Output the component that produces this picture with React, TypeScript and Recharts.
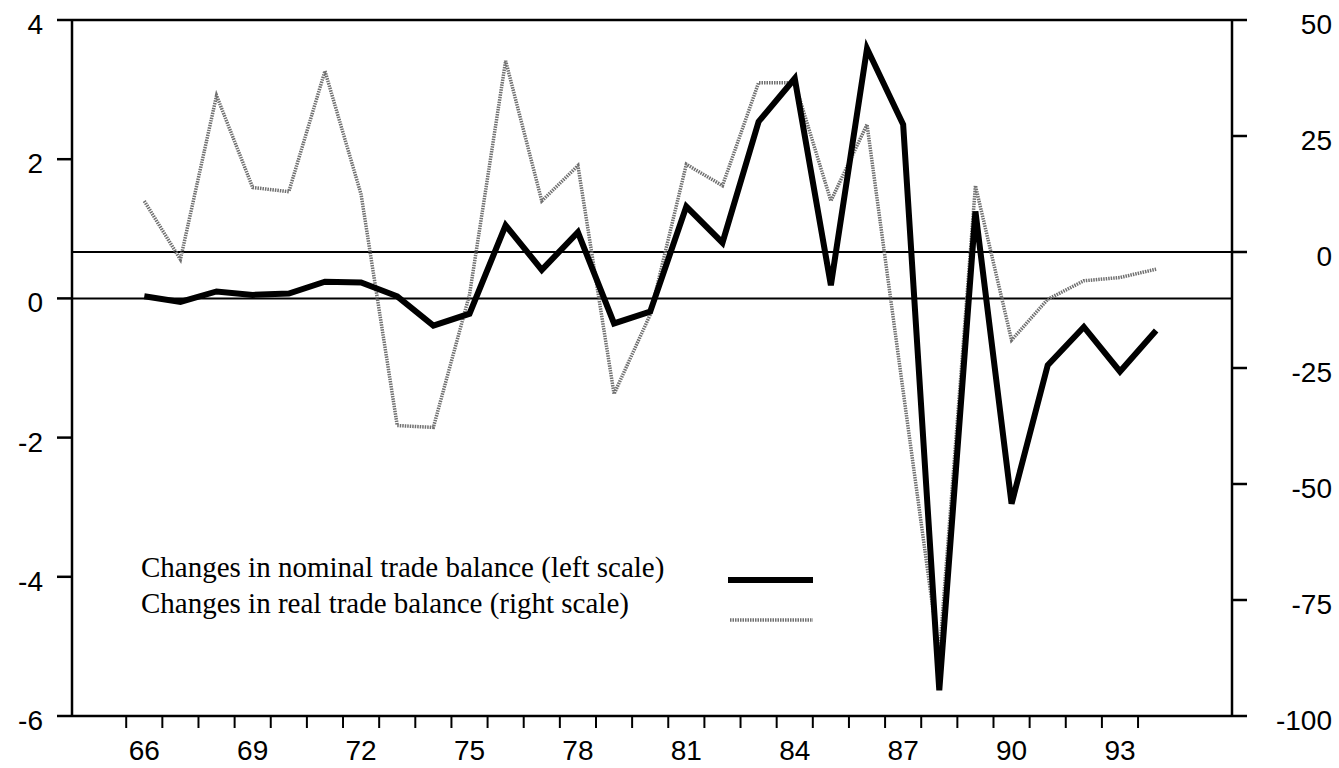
import React from 'react';
import { LineChart, Line, XAxis, YAxis, ReferenceLine, Legend } from 'recharts';

const years = [66, 67, 68, 69, 70, 71, 72, 73, 74, 75, 76, 77, 78, 79, 80, 81, 82, 83, 84, 85, 86, 87, 88, 89, 90, 91, 92, 93, 94];
const nominalBalance = [0.03, -0.05, 0.1, 0.05, 0.07, 0.24, 0.23, 0.03, -0.39, -0.22, 1.05, 0.41, 0.95, -0.36, -0.19, 1.32, 0.8, 2.54, 3.16, 0.19, 3.59, 2.5, -5.63, 1.25, -2.95, -0.96, -0.41, -1.05, -0.46];
const realBalance = [11, -1.6, 33.7, 13.9, 13, 39, 12.4, -37.4, -37.8, -9.2, 41.2, 11, 18.6, -30.6, -13.5, 18.9, 14.3, 36.5, 36.5, 11, 27.5, -30, -87, 14.3, -19, -10.2, -6.2, -5.5, -3.7];
const xLabelYears = [66, 69, 72, 75, 78, 81, 84, 87, 90, 93];
const xTickBoundaries = years.map((y) => y - 0.5);
const leftTicks = [4, 2, 0, -2, -4, -6];
const rightTicks = [50, 25, 0, -25, -50, -75, -100];
const nominalName = 'Changes in nominal trade balance (left scale)';
const realName = 'Changes in real trade balance (right scale)';

const data = years.map((y, i) => ({ year: y, nominal: nominalBalance[i], real: realBalance[i] }));

const SANS = '"Liberation Sans", Arial, Helvetica, sans-serif';
const SERIF = '"Liberation Serif", "Times New Roman", Times, serif';
const NOMINAL_STYLE = { stroke: '#000', strokeWidth: 6 };
const REAL_STYLE = { stroke: '#707070', strokeWidth: 3.5, strokeDasharray: '1.5 1' };

const LeftTick = (props: any) => (
  <text x={props.x} y={props.y + 14} textAnchor="end" fontFamily={SANS} fontSize={28} fill="#000">
    {props.payload.value}
  </text>
);

const RightTick = (props: any) => (
  <text x={props.x + 77} y={props.y + 14} textAnchor="end" fontFamily={SANS} fontSize={28} fill="#000">
    {props.payload.value}
  </text>
);

const EmptyTick = () => <g />;

const renderLegend = () => (
  <svg width={1339} height={768} style={{ position: 'absolute', left: 0, top: 0 }}>
    <text x={141} y={577} fontFamily={SERIF} fontSize={29} fill="#000">{nominalName}</text>
    <line x1={728} x2={813} y1={580} y2={580} stroke={NOMINAL_STYLE.stroke} strokeWidth={6} />
    <text x={141} y={613} fontFamily={SERIF} fontSize={29} fill="#000">{realName}</text>
    <line x1={730} x2={813} y1={620} y2={620} stroke={REAL_STYLE.stroke} strokeWidth={3.5} strokeDasharray={REAL_STYLE.strokeDasharray} />
  </svg>
);

export default function App() {
  return (
    <div style={{ position: 'absolute', left: 0, top: 0, width: 1339, height: 768, background: '#fff' }}>
      <LineChart width={1339} height={768} data={data} margin={{ top: 20, right: 0, bottom: 0, left: 0 }}>
        <XAxis
          xAxisId="bounds"
          dataKey="year"
          type="number"
          domain={[64, 96.1]}
          allowDataOverflow
          ticks={xTickBoundaries}
          interval={0}
          height={12}
          tickSize={12}
          tick={EmptyTick}
          axisLine={{ stroke: '#000', strokeWidth: 2.5 }}
          tickLine={{ stroke: '#000', strokeWidth: 2 }}
        />
        <XAxis
          xAxisId="labels"
          dataKey="year"
          type="number"
          domain={[64, 96.1]}
          allowDataOverflow
          ticks={xLabelYears}
          interval={0}
          height={40}
          tickSize={0}
          tickMargin={12}
          tickLine={false}
          axisLine={false}
          tick={{ fontFamily: SANS, fontSize: 28, fill: '#000' }}
        />
        <YAxis
          yAxisId="left"
          domain={[-6, 4]}
          ticks={leftTicks}
          interval={0}
          width={72}
          tickSize={15}
          tickMargin={14}
          tick={LeftTick}
          axisLine={{ stroke: '#000', strokeWidth: 2.5 }}
          tickLine={{ stroke: '#000', strokeWidth: 2.5 }}
        />
        <YAxis
          yAxisId="right"
          orientation="right"
          domain={[-100, 50]}
          ticks={rightTicks}
          interval={0}
          width={107}
          tickSize={15}
          tickMargin={8}
          tick={RightTick}
          axisLine={{ stroke: '#000', strokeWidth: 2.5 }}
          tickLine={{ stroke: '#000', strokeWidth: 2.5 }}
        />
        <ReferenceLine yAxisId="left" xAxisId="bounds" y={4} stroke="#000" strokeWidth={2.5} />
        <ReferenceLine yAxisId="left" xAxisId="bounds" y={0} stroke="#000" strokeWidth={2} />
        <ReferenceLine yAxisId="right" xAxisId="bounds" y={0} stroke="#000" strokeWidth={2} />
        <Line
          name={realName}
          xAxisId="bounds"
          yAxisId="right"
          dataKey="real"
          type="linear"
          dot={false}
          isAnimationActive={false}
          {...REAL_STYLE}
        />
        <Line
          name={nominalName}
          xAxisId="bounds"
          yAxisId="left"
          dataKey="nominal"
          type="linear"
          dot={false}
          strokeLinejoin="miter"
          isAnimationActive={false}
          {...NOMINAL_STYLE}
        />
        <Legend
          layout="vertical"
          align="center"
          verticalAlign="middle"
          wrapperStyle={{ left: 0, top: 0, width: 1339, height: 768, pointerEvents: 'none' }}
          content={renderLegend}
        />
      </LineChart>
    </div>
  );
}
